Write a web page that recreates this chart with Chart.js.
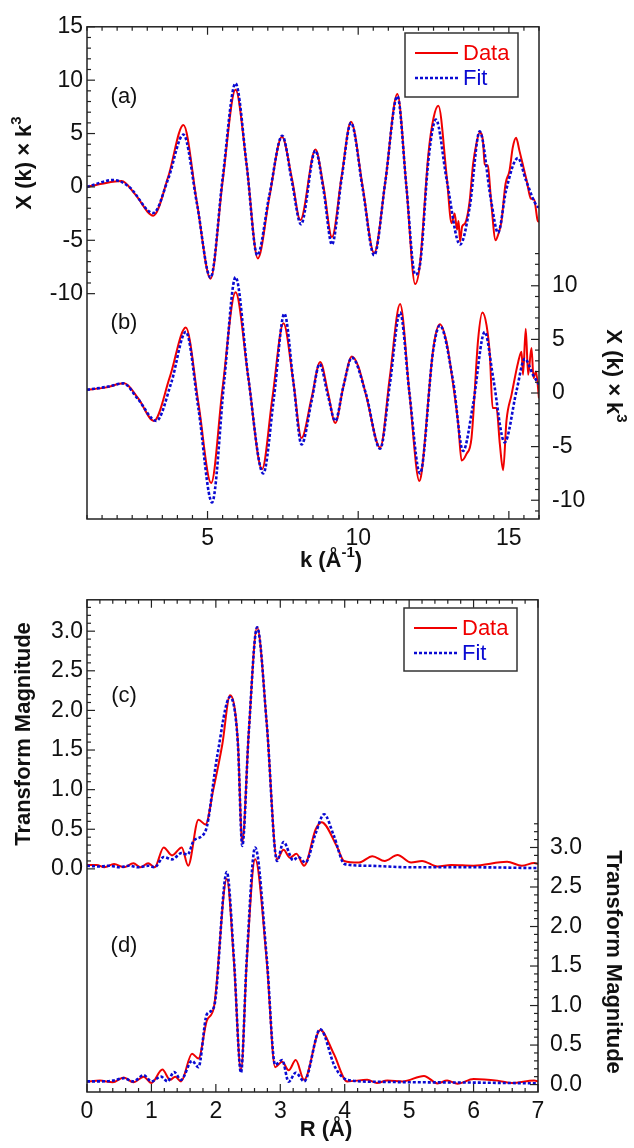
<!DOCTYPE html>
<html>
<head>
<meta charset="utf-8">
<script src="https://cdn.jsdelivr.net/npm/chart.js@4/dist/chart.umd.min.js"></script>
<style>
  body { margin: 0; background: #fff; }
  canvas { display: block; }
</style>
</head>
<body>
<canvas id="chiChart" width="634" height="574"></canvas>
<canvas id="ftChart" width="634" height="574"></canvas>
<script>
// k-space, trace (a) - left axis
var aDataK   = [1.0, 1.5, 2.15, 2.6, 3.2, 3.7, 4.2, 4.65, 5.1, 5.5, 5.93, 6.3, 6.67, 7.05, 7.47, 7.8, 8.08, 8.58, 8.85, 9.13, 9.45, 9.76, 10.15, 10.53, 10.9, 11.3, 11.6, 11.89, 12.05, 12.33, 12.5, 12.66, 12.94, 13.1, 13.2, 13.28, 13.33, 13.38, 13.45, 13.55, 13.7, 13.81, 13.92, 14.03, 14.14, 14.2, 14.3, 14.41, 14.56, 14.64, 14.75, 14.89, 15.02, 15.13, 15.24, 15.35, 15.48, 15.59, 15.73, 15.84, 15.95, 16.0];
var aDataChi = [0.0, 0.3, 0.55, -0.7, -2.7, 1.0, 5.8, -1.5, -8.6, 0.5, 9.1, 2.0, -6.7, -1.0, 4.7, 0.8, -3.1, 3.5, 0.0, -4.7, 1.0, 6.1, 0.0, -6.2, 0.5, 8.7, 0.0, -9.1, -7.2, 3.1, 6.45, 7.6, 0.9, -3.4, -2.5, -4.0, -3.2, -5.1, -3.7, -3.4, -1.3, 2.1, 4.0, 5.1, 4.3, 2.1, 2.0, -1.3, -5.0, -4.5, -3.3, 0.3, 1.5, 3.7, 4.6, 3.4, 1.9, 0.6, -1.1, -1.2, -3.1, -3.3];
var aFitK    = [1.0, 1.88, 2.4, 3.2, 3.7, 4.2, 4.65, 5.1, 5.5, 5.93, 6.3, 6.65, 7.05, 7.48, 7.8, 8.1, 8.58, 8.85, 9.13, 9.45, 9.76, 10.15, 10.53, 10.9, 11.3, 11.6, 11.89, 12.05, 12.33, 12.58, 12.94, 13.38, 13.7, 14.03, 14.41, 14.64, 14.91, 15.3, 15.57, 15.95, 16.0];
var aFitChi  = [0.0, 0.65, 0.0, -2.45, 0.8, 4.9, -1.6, -8.5, 0.8, 9.7, 2.0, -6.4, -0.8, 4.8, 0.5, -3.5, 3.4, -0.3, -5.4, 0.8, 6.0, -0.2, -6.4, 0.5, 8.5, 0.0, -8.2, -7.3, 2.5, 6.3, 0.6, -5.4, -1.9, 5.2, -1.3, -4.3, -0.3, 2.7, 0.6, -1.85, -1.9];

// k-space, trace (b) - right axis
var bDataK   = [1.0, 1.6, 2.23, 2.7, 3.22, 3.75, 4.28, 4.7, 5.12, 5.5, 5.93, 6.35, 6.81, 7.15, 7.52, 7.85, 8.12, 8.45, 8.74, 9.0, 9.24, 9.5, 9.79, 10.0, 10.27, 10.73, 11.05, 11.39, 11.7, 12.03, 12.1, 12.49, 12.71, 12.93, 13.15, 13.32, 13.43, 13.59, 13.76, 13.98, 14.12, 14.26, 14.37, 14.46, 14.59, 14.7, 14.81, 14.92, 15.09, 15.31, 15.42, 15.47, 15.56, 15.64, 15.75, 15.82, 15.9, 16.0];
var bDataChi = [0.3, 0.5, 0.9, -0.5, -2.6, 1.5, 6.1, -1.0, -8.4, 0.5, 9.4, 1.5, -7.1, -0.5, 6.5, 1.0, -4.2, -0.5, 2.9, 0.0, -2.8, 0.5, 3.4, 2.5, -0.3, -5.1, 1.5, 8.3, 0.0, -8.2, -7.5, 4.1, 6.4, 4.75, 0.8, -2.9, -6.3, -5.7, -4.2, 5.0, 7.5, 6.3, 3.5, -1.4, -1.4, -4.75, -7.2, -2.6, -0.15, 2.9, 3.85, 1.7, 6.0, 1.7, 4.2, 1.4, 2.0, -0.5];
var bFitK    = [1.0, 1.7, 2.2, 2.7, 3.3, 3.8, 4.28, 4.7, 5.15, 5.55, 5.93, 6.35, 6.85, 7.2, 7.55, 7.85, 8.12, 8.45, 8.72, 9.0, 9.24, 9.5, 9.79, 10.25, 10.73, 11.05, 11.39, 11.7, 12.05, 12.49, 12.71, 13.15, 13.48, 13.81, 14.2, 14.48, 14.86, 15.25, 15.53, 15.8, 16.0];
var bFitChi  = [0.3, 0.6, 0.9, -0.6, -2.6, 1.0, 5.7, -1.5, -10.2, 1.0, 10.8, 1.5, -7.5, -0.5, 7.4, 1.0, -4.8, -0.8, 2.7, -0.3, -2.6, 0.5, 3.3, 0.0, -5.2, 0.8, 7.5, 0.0, -7.5, 4.0, 6.3, 1.1, -5.4, -1.1, 5.7, 1.4, -4.6, 0.15, 3.2, 1.7, 0.8];

// R-space, trace (c) - left axis
var cDataR   = [0.0, 0.15, 0.27, 0.42, 0.57, 0.72, 0.83, 0.95, 1.05, 1.19, 1.32, 1.47, 1.57, 1.73, 1.84, 1.96, 2.1, 2.22, 2.34, 2.41, 2.51, 2.64, 2.79, 2.95, 3.05, 3.15, 3.25, 3.37, 3.55, 3.64, 3.88, 3.99, 4.22, 4.43, 4.62, 4.82, 5.03, 5.2, 5.44, 5.65, 6.0, 6.52, 6.75, 6.94, 7.0];
var cDataMag = [0.05, 0.05, 0.02, 0.06, 0.02, 0.07, 0.02, 0.07, 0.02, 0.27, 0.17, 0.27, 0.04, 0.62, 0.56, 1.0, 1.57, 2.19, 1.63, 0.33, 1.71, 3.05, 1.83, 0.12, 0.24, 0.14, 0.19, 0.04, 0.5, 0.59, 0.28, 0.10, 0.08, 0.16, 0.10, 0.175, 0.08, 0.10, 0.03, 0.05, 0.04, 0.09, 0.04, 0.075, 0.06];
var cFitR    = [0.0, 0.2, 0.35, 0.5, 0.65, 0.8, 0.95, 1.05, 1.19, 1.32, 1.47, 1.56, 1.66, 1.84, 2.02, 2.22, 2.34, 2.41, 2.51, 2.64, 2.79, 2.95, 3.05, 3.2, 3.28, 3.39, 3.55, 3.68, 3.83, 4.0, 4.35, 5.0, 6.0, 7.0];
var cFitMag  = [0.04, 0.03, 0.04, 0.02, 0.04, 0.02, 0.04, 0.02, 0.15, 0.12, 0.2, 0.18, 0.36, 0.48, 1.42, 2.17, 1.6, 0.29, 1.71, 3.05, 1.83, 0.10, 0.34, 0.11, 0.15, 0.08, 0.45, 0.69, 0.42, 0.06, 0.04, 0.02, 0.02, 0.01];

// R-space, trace (d) - right axis
var dDataR   = [0.0, 0.2, 0.4, 0.57, 0.72, 0.88, 1.0, 1.17, 1.29, 1.37, 1.46, 1.63, 1.73, 1.86, 1.97, 2.17, 2.28, 2.39, 2.48, 2.61, 2.79, 2.92, 3.03, 3.13, 3.24, 3.37, 3.62, 3.83, 4.04, 4.35, 4.5, 4.66, 4.9, 5.23, 5.44, 5.59, 5.75, 6.0, 6.37, 6.6, 6.94, 7.0];
var dDataMag = [0.035, 0.05, 0.03, 0.09, 0.03, 0.1, 0.02, 0.19, 0.06, 0.1, 0.04, 0.39, 0.33, 0.81, 0.98, 2.6, 1.56, 0.18, 1.56, 2.85, 1.56, 0.22, 0.29, 0.18, 0.31, 0.06, 0.69, 0.39, 0.04, 0.06, 0.02, 0.05, 0.04, 0.11, 0.015, 0.05, 0.01, 0.07, 0.05, 0.02, 0.05, 0.04];
var dFitR    = [0.0, 0.2, 0.4, 0.57, 0.72, 0.88, 1.0, 1.15, 1.25, 1.35, 1.46, 1.63, 1.73, 1.86, 1.97, 2.17, 2.28, 2.39, 2.48, 2.61, 2.79, 2.92, 3.03, 3.13, 3.24, 3.37, 3.62, 3.85, 4.04, 4.5, 5.0, 6.0, 7.0];
var dFitMag  = [0.04, 0.04, 0.05, 0.08, 0.04, 0.12, 0.04, 0.1, 0.04, 0.16, 0.06, 0.3, 0.22, 0.89, 0.98, 2.69, 1.6, 0.15, 1.6, 3.0, 1.6, 0.25, 0.31, 0.035, 0.15, 0.04, 0.7, 0.22, 0.06, 0.035, 0.03, 0.025, 0.015];

// tick labels
var kLabels      = [5, 10, 15];
var chiLeftLbl   = [-10, -5, 0, 5, 10, 15];
var chiRightLbl  = [-10, -5, 0, 5, 10];
var rLabels      = [0, 1, 2, 3, 4, 5, 6, 7];
var magLeftLbl   = [0.0, 0.5, 1.0, 1.5, 2.0, 2.5, 3.0];
var magRightLbl  = [0.0, 0.5, 1.0, 1.5, 2.0, 2.5, 3.0];

var RED = '#f00000';
var BLUE = '#0a0ad2';
var FONT = "'Liberation Sans', Arial, sans-serif";
Chart.defaults.font.family = FONT;
Chart.defaults.color = '#111';

function pts(xs, ys) {
  return xs.map(function (x, i) { return {x: x, y: ys[i]}; });
}

// minor+major tick values from lo to hi with given step
function tickRange(lo, hi, step) {
  var out = [];
  var n = Math.round((hi - lo) / step);
  for (var i = 0; i <= n; i++) out.push(+(lo + i * step).toFixed(4));
  return out;
}

function isIn(v, list) {
  return list.some(function (l) { return Math.abs(l - v) < 1e-6; });
}

function dataSet(label, arr, axis, color, dashed) {
  return {
    label: label,
    data: arr,
    yAxisID: axis,
    borderColor: color,
    borderWidth: dashed ? 2.6 : 2,
    borderDash: dashed ? [3, 2] : [],
    pointRadius: 0,
    fill: false,
    cubicInterpolationMode: 'monotone',
    order: dashed ? 1 : 2
  };
}

// draws a string made of [text, isSuperscript] pieces, centred on (x,y)
function drawRich(ctx, parts, x, y, angle, size, bold) {
  var w = bold ? 'bold ' : '';
  ctx.save();
  ctx.translate(x, y);
  ctx.rotate(angle);
  var total = 0;
  parts.forEach(function (p) {
    ctx.font = w + (p[1] ? size * 0.68 : size) + 'px ' + FONT;
    total += ctx.measureText(p[0]).width;
  });
  var cx = -total / 2;
  ctx.textBaseline = 'middle';
  ctx.textAlign = 'left';
  parts.forEach(function (p) {
    ctx.font = w + (p[1] ? size * 0.68 : size) + 'px ' + FONT;
    ctx.fillText(p[0], cx, p[1] ? -size * 0.38 : 0);
    cx += ctx.measureText(p[0]).width;
  });
  ctx.restore();
}

// frame, inward ticks, titles, panel labels and legend box
var decor = {
  id: 'decor',
  afterDatasetsDraw: function (chart, args, o) {
    var ctx = chart.ctx, a = chart.chartArea;
    ctx.save();
    ctx.strokeStyle = '#222';
    ctx.lineWidth = 1.5;
    ctx.strokeRect(a.left, a.top, a.right - a.left, a.bottom - a.top);
    ctx.lineWidth = 1.2;
    Object.keys(chart.scales).forEach(function (id) {
      var s = chart.scales[id];
      var majors = o.majors[id];
      s.ticks.forEach(function (t) {
        var p = s.getPixelForValue(t.value);
        var len = isIn(t.value, majors) ? 8 : 4;
        ctx.beginPath();
        if (s.axis === 'x') {
          ctx.moveTo(p, a.bottom); ctx.lineTo(p, a.bottom - len);
          ctx.moveTo(p, a.top); ctx.lineTo(p, a.top + len);
        } else if (s.position === 'left') {
          ctx.moveTo(a.left, p); ctx.lineTo(a.left + len, p);
        } else {
          ctx.moveTo(a.right, p); ctx.lineTo(a.right - len, p);
        }
        ctx.stroke();
      });
    });

    ctx.fillStyle = '#111';
    drawRich(ctx, o.leftTitle, o.leftPos[0], o.leftPos[1], -Math.PI / 2, 22, true);
    drawRich(ctx, o.rightTitle, o.rightPos[0], o.rightPos[1], Math.PI / 2, 22, true);
    drawRich(ctx, o.xTitle, o.xPos[0], o.xPos[1], 0, 22, true);
    o.panels.forEach(function (p) {
      drawRich(ctx, [[p[0], false]], p[1], p[2], 0, 22, false);
    });

    // legend
    var L = o.legend;
    ctx.fillStyle = '#fff';
    ctx.fillRect(L.x, L.y, L.w, L.h);
    ctx.strokeStyle = '#333';
    ctx.lineWidth = 1.5;
    ctx.strokeRect(L.x, L.y, L.w, L.h);
    ctx.font = '22px ' + FONT;
    ctx.textBaseline = 'middle';
    ctx.textAlign = 'left';
    [0, 1].forEach(function (i) {
      var ds = chart.data.datasets[i];
      var yy = L.y + 20 + i * 25;
      ctx.strokeStyle = ds.borderColor;
      ctx.lineWidth = ds.borderWidth;
      ctx.setLineDash(ds.borderDash);
      ctx.beginPath();
      ctx.moveTo(L.x + 10, yy); ctx.lineTo(L.x + 53, yy);
      ctx.stroke();
      ctx.setLineDash([]);
      ctx.fillStyle = ds.borderColor;
      ctx.fillText(ds.label, L.x + 58, yy + 1);
    });
    ctx.restore();
  }
};

function scaleCfg(pos, min, max, step, labels, tickLo, tickHi, width, pad, digits) {
  return {
    type: 'linear',
    position: pos,
    min: min,
    max: max,
    bounds: 'data',
    grid: { display: false, drawTicks: false },
    border: { display: false },
    afterBuildTicks: function (s) {
      s.ticks = tickRange(tickLo, tickHi, step).map(function (v) { return {value: v}; });
    },
    afterFit: function (s) {
      if (pos === 'bottom') s.height = width; else s.width = width;
    },
    ticks: {
      autoSkip: false,
      maxRotation: 0,
      minRotation: 0,
      padding: pad,
      font: { size: 23 },
      color: '#111',
      callback: function (v) {
        return isIn(v, labels) ? (digits ? v.toFixed(digits) : String(v)) : '';
      }
    }
  };
}

var common = {
  responsive: false,
  animation: false,
  layout: { padding: { top: 21, left: 0, right: 0, bottom: 0 } },
  plugins: { legend: { display: false }, tooltip: { enabled: false } }
};

new Chart(document.getElementById('chiChart').getContext('2d'), {
  type: 'line',
  data: {
    datasets: [
      dataSet('Data', pts(aDataK, aDataChi), 'yL', RED, false),
      dataSet('Fit', pts(aFitK, aFitChi), 'yL', BLUE, true),
      dataSet('Data', pts(bDataK, bDataChi), 'yR', RED, false),
      dataSet('Fit', pts(bFitK, bFitChi), 'yR', BLUE, true)
    ]
  },
  options: Object.assign({}, common, {
    scales: {
      x: scaleCfg('bottom', 1, 16, 0.5, kLabels, 1, 16, 55, 6, 0),
      yL: scaleCfg('left', -31.11, 15, 1, chiLeftLbl, -10, 15, 87, 4, 0),
      yR: scaleCfg('right', -11.75, 34.15, 1, chiRightLbl, -11, 13, 95, 13, 0)
    },
    plugins: Object.assign({}, common.plugins, {
      decor: {
        majors: { x: kLabels, yL: chiLeftLbl, yR: chiRightLbl },
        leftTitle: [['\u03A7 (k) \u00D7 k', false], ['3', true]],
        leftPos: [25, 163],
        rightTitle: [['\u03A7 (k) \u00D7 k', false], ['3', true]],
        rightPos: [613, 376],
        xTitle: [['k (\u00C5', false], ['-1', true], [')', false]],
        xPos: [331, 561],
        panels: [['(a)', 124, 97], ['(b)', 124, 323]],
        legend: { x: 405, y: 33, w: 113, h: 64 }
      }
    })
  }),
  plugins: [decor]
});

new Chart(document.getElementById('ftChart').getContext('2d'), {
  type: 'line',
  data: {
    datasets: [
      dataSet('Data', pts(cDataR, cDataMag), 'yL', RED, false),
      dataSet('Fit', pts(cFitR, cFitMag), 'yL', BLUE, true),
      dataSet('Data', pts(dDataR, dDataMag), 'yR', RED, false),
      dataSet('Fit', pts(dFitR, dFitMag), 'yR', BLUE, true)
    ]
  },
  options: Object.assign({}, common, {
    scales: {
      x: scaleCfg('bottom', 0, 7, 0.2, rLabels, 0, 7, 56, 6, 0),
      yL: scaleCfg('left', -2.816, 3.396, 0.1, magLeftLbl, 0, 3.3, 87, 4, 1),
      yR: scaleCfg('right', -0.094, 6.134, 0.1, magRightLbl, 0, 3.3, 96, 12, 1)
    },
    plugins: Object.assign({}, common.plugins, {
      decor: {
        majors: { x: rLabels, yL: magLeftLbl, yR: magRightLbl },
        leftTitle: [['Transform Magnitude', false]],
        leftPos: [24, 160],
        rightTitle: [['Transform Magnitude', false]],
        rightPos: [613, 388],
        xTitle: [['R (\u00C5)', false]],
        xPos: [326, 556],
        panels: [['(c)', 124, 122], ['(d)', 124, 372]],
        legend: { x: 404, y: 34, w: 113, h: 63 }
      }
    })
  }),
  plugins: [decor]
});
</script>
</body>
</html>
